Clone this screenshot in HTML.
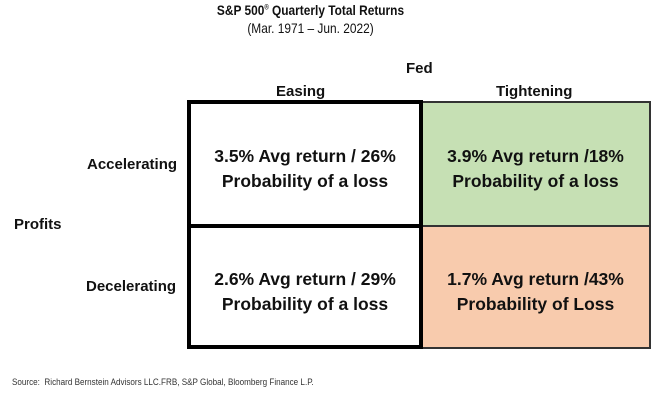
<!DOCTYPE html>
<html><head><style>
body{margin:0;width:652px;height:400px;background:#fff;font-family:"Liberation Sans",sans-serif;position:relative;overflow:hidden;color:#111}
.a{position:absolute;white-space:nowrap}
.c{position:absolute;box-sizing:border-box;display:flex;align-items:center;justify-content:center;text-align:center;font-weight:bold;font-size:17.5px;line-height:25px;padding-top:10px}
</style></head><body>
<div class="a" style="left:0;width:621px;top:2px;text-align:center;font-weight:bold;font-size:14px;transform:scaleX(0.85)">S&amp;P 500<sup style="font-size:7px">®</sup> Quarterly Total Returns</div>
<div class="a" style="left:0;width:621px;top:20px;text-align:center;font-size:14px;transform:scaleX(0.85)">(Mar. 1971 – Jun. 2022)</div>
<div class="a" style="left:406px;top:60px;font-weight:bold;font-size:15px">Fed</div>
<div class="a" style="left:276px;top:83px;font-weight:bold;font-size:15px">Easing</div>
<div class="a" style="left:496px;top:83px;font-weight:bold;font-size:15px">Tightening</div>
<div class="a" style="left:87px;top:156px;font-weight:bold;font-size:15px">Accelerating</div>
<div class="a" style="left:86px;top:278px;font-weight:bold;font-size:15px">Decelerating</div>
<div class="a" style="left:14px;top:216px;font-weight:bold;font-size:15px">Profits</div>
<div class="c" style="left:420px;top:101px;width:231px;height:126px;background:#c6e0b4;border:2px solid #333">3.9% Avg return /18%<br>Probability of a loss</div>
<div class="c" style="left:420px;top:225px;width:231px;height:124px;background:#f8cbad;border:2px solid #333">1.7% Avg return /43%<br>Probability of Loss</div>
<div class="c" style="left:187px;top:100px;width:236px;height:128px;border:4px solid #000">3.5% Avg return / 26%<br>Probability of a loss</div>
<div class="c" style="left:187px;top:224px;width:236px;height:125px;border:4px solid #000">2.6% Avg return / 29%<br>Probability of a loss</div>
<div class="a" style="left:12px;top:377px;font-size:9px;color:#333;transform-origin:left;transform:scaleX(0.9)">Source:&nbsp; Richard Bernstein Advisors LLC.FRB, S&amp;P Global, Bloomberg Finance L.P.</div>
</body></html>
